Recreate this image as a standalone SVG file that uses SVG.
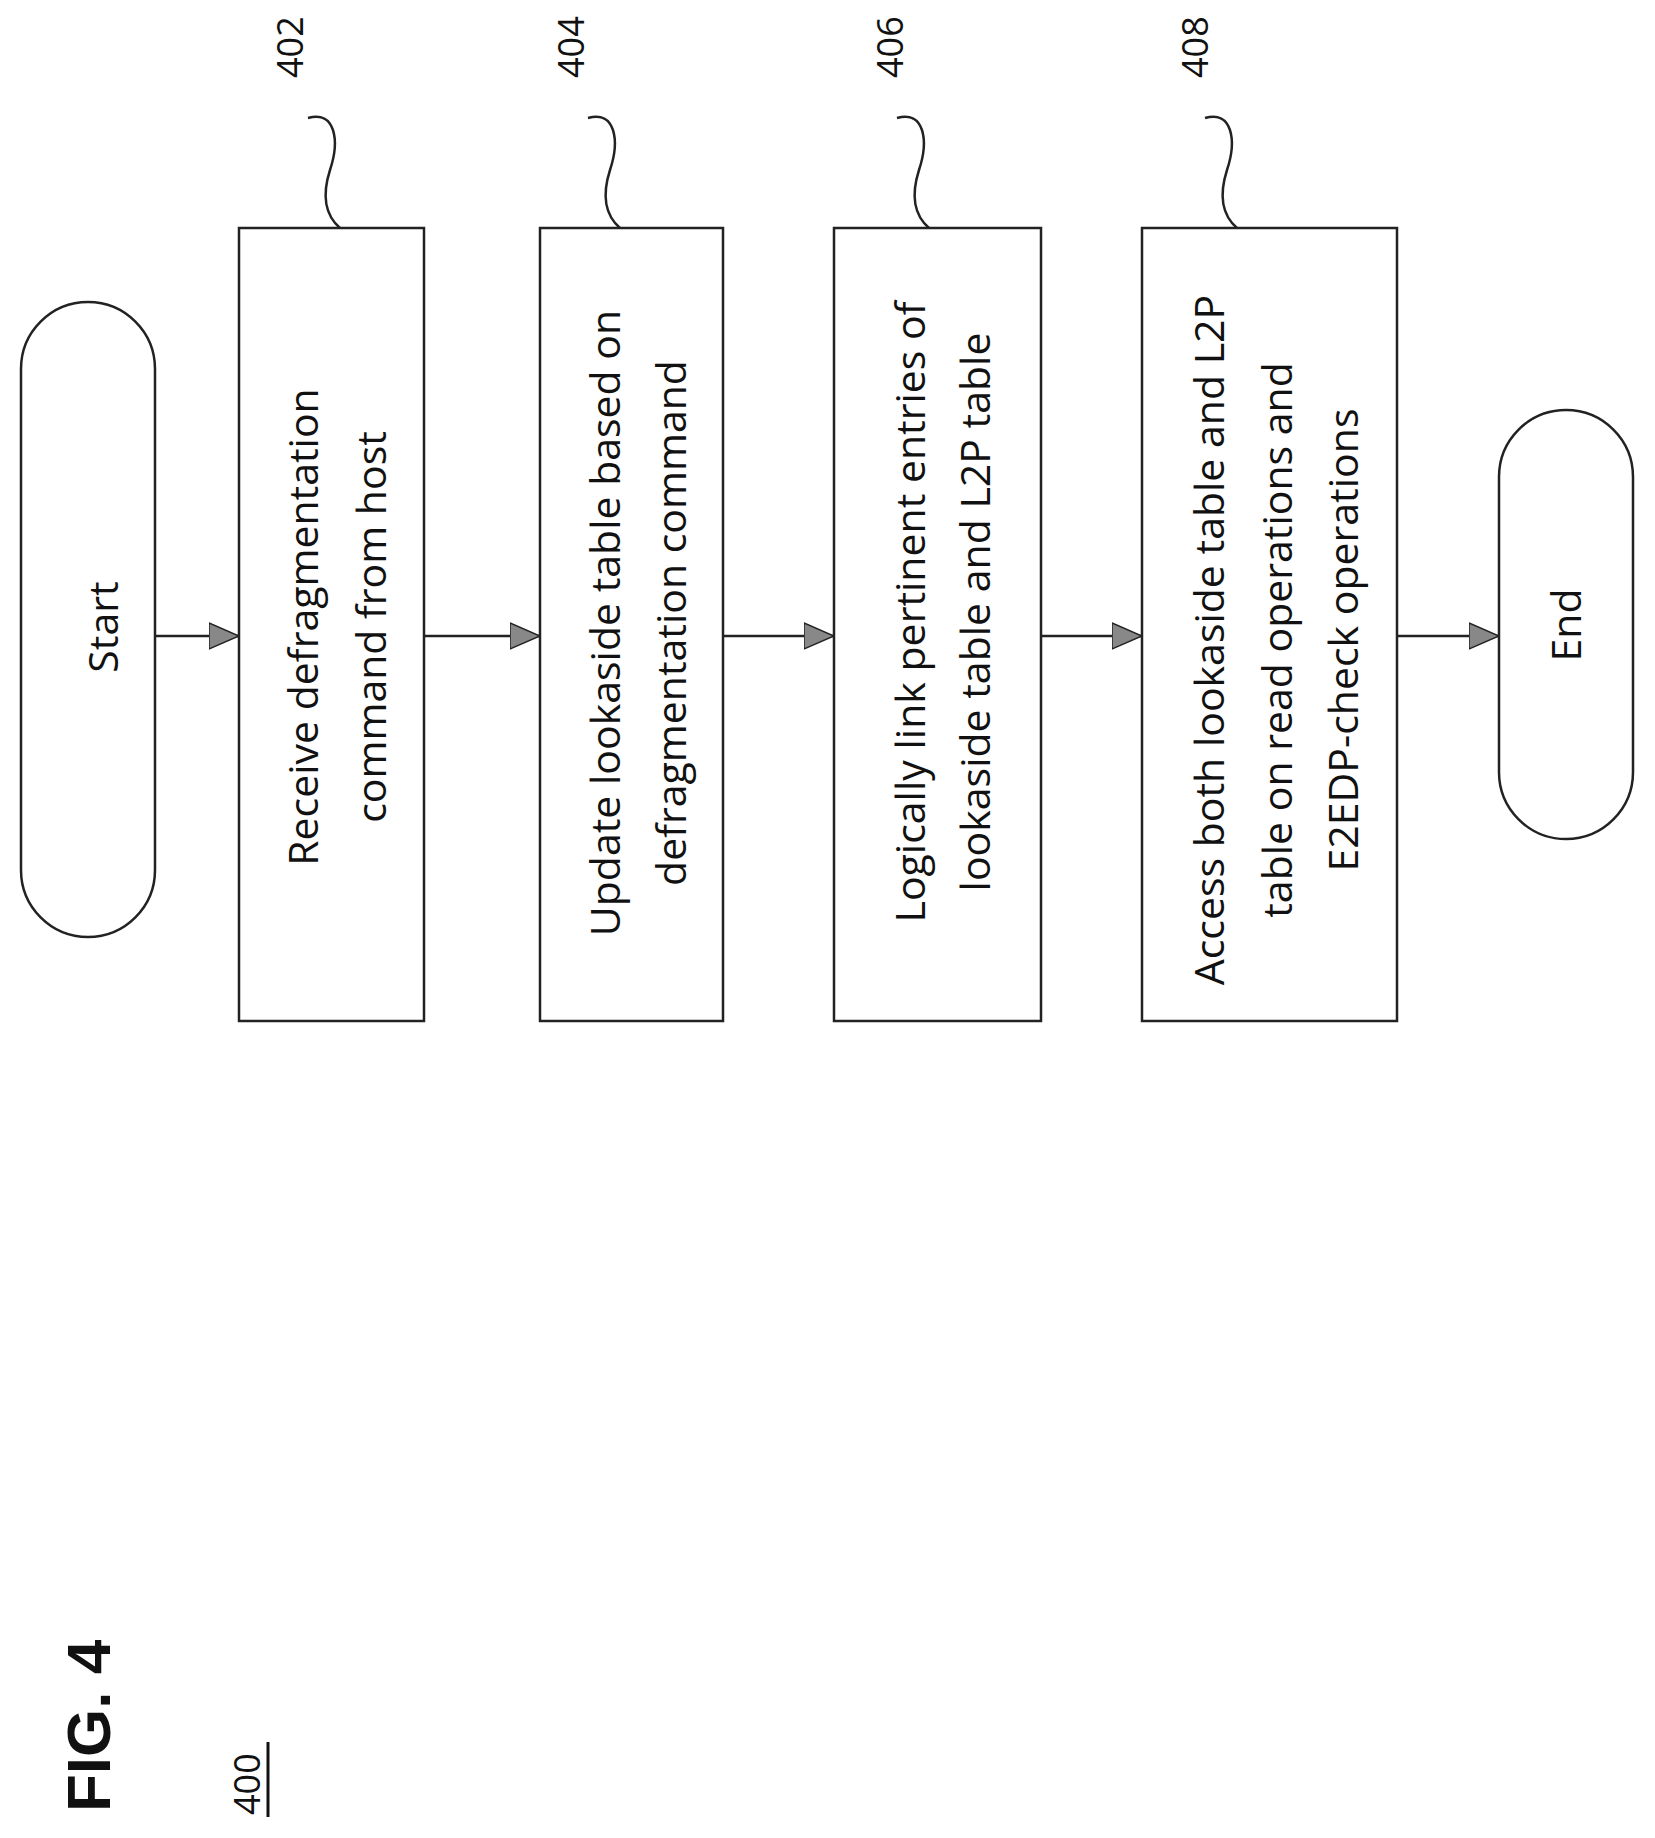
<svg xmlns="http://www.w3.org/2000/svg" width="1655" height="1838" viewBox="0 0 1655 1838">
<style>
.s{fill:#fff;stroke:#222;stroke-width:2.5}
.t{font-family:"Open Sans","Liberation Sans",sans-serif;font-size:41px;fill:#111;text-anchor:middle}
.r{font-family:"Open Sans","Liberation Sans",sans-serif;font-size:36px;fill:#111}
.c{fill:none;stroke:#222;stroke-width:2.5}
</style>
<defs>
<marker id="b" markerWidth="30" markerHeight="30" refX="30" refY="15" orient="auto" markerUnits="userSpaceOnUse" viewBox="0 0 30 30"><path d="M0,2 L30,15 L0,28 Z" fill="#888" stroke="#222" stroke-width="1.5"/></marker></defs>
<g id="start"><rect class="s" x="21" y="302" width="134" height="635" rx="67"/><text class="t" transform="translate(118,627) rotate(-90)">Start</text></g>
<g id="n402"><rect class="s" x="239" y="228" width="185" height="793"/><text class="t" transform="translate(318,627) rotate(-90)">Receive defragmentation</text><text class="t" transform="translate(386,627) rotate(-90)">command from host</text></g>
<g id="n404"><rect class="s" x="540" y="228" width="183" height="793"/><text class="t" transform="translate(620,623) rotate(-90)">Update lookaside table based on</text><text class="t" transform="translate(686,623) rotate(-90)">defragmentation command</text></g>
<g id="n406"><rect class="s" x="834" y="228" width="207" height="793"/><text class="t" transform="translate(925,612) rotate(-90)">Logically link pertinent entries of</text><text class="t" transform="translate(990,612) rotate(-90)">lookaside table and L2P table</text></g>
<g id="n408"><rect class="s" x="1142" y="228" width="255" height="793"/><text class="t" transform="translate(1224,640) rotate(-90)">Access both lookaside table and L2P</text><text class="t" transform="translate(1292,640) rotate(-90)">table on read operations and</text><text class="t" transform="translate(1358,640) rotate(-90)">E2EDP-check operations</text></g>
<g id="end"><rect class="s" x="1499" y="410" width="134" height="429" rx="67"/><text class="t" transform="translate(1581,625) rotate(-90)">End</text></g>
<g id="connectors">
<line class="c" x1="155" y1="636" x2="239" y2="636" marker-end="url(#b)"/>
<line class="c" x1="424" y1="636" x2="540" y2="636" marker-end="url(#b)"/>
<line class="c" x1="723" y1="636" x2="834" y2="636" marker-end="url(#b)"/>
<line class="c" x1="1041" y1="636" x2="1142" y2="636" marker-end="url(#b)"/>
<line class="c" x1="1397" y1="636" x2="1499" y2="636" marker-end="url(#b)"/>
<path class="c" d="M308,118 C335,110 340,140 330,170 C322,195 325,215 340,228"/>
<path class="c" d="M588,118 C615,110 620,140 610,170 C602,195 605,215 620,228"/>
<path class="c" d="M897,118 C924,110 929,140 919,170 C911,195 914,215 929,228"/>
<path class="c" d="M1205,118 C1232,110 1237,140 1227,170 C1219,195 1222,215 1237,228"/>
</g>
<g id="labels">
<text class="r" transform="translate(303,78) rotate(-90)">402</text>
<text class="r" transform="translate(584,78) rotate(-90)">404</text>
<text class="r" transform="translate(903,78) rotate(-90)">406</text>
<text class="r" transform="translate(1208,78) rotate(-90)">408</text>
<text transform="translate(110,1812) rotate(-90)" font-family="Liberation Sans,sans-serif" font-weight="bold" font-size="62" fill="#111">FIG. 4</text>
<text class="r" transform="translate(260,1815) rotate(-90)">400</text>
<line x1="268" y1="1742" x2="268" y2="1817" stroke="#111" stroke-width="3"/>
</g>
</svg>
